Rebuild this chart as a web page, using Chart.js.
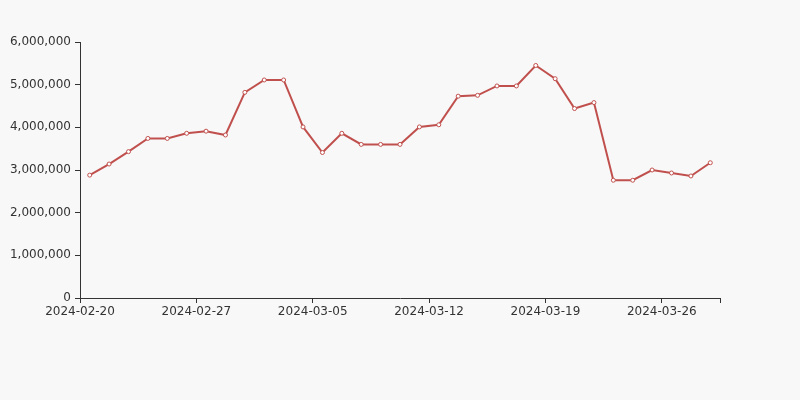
<!DOCTYPE html>
<html><head><meta charset="utf-8">
<script src="https://cdn.jsdelivr.net/npm/chart.js@4/dist/chart.umd.min.js"></script>
<style>html,body{margin:0;background:#f8f8f8}#w{width:800px;height:400px}</style>
</head><body><div id="w"><canvas id="c"></canvas></div>
<script>
const dates = ["2024-02-20","2024-02-21","2024-02-22","2024-02-23","2024-02-24","2024-02-26","2024-02-27","2024-02-28","2024-02-29","2024-03-01","2024-03-02","2024-03-04","2024-03-05","2024-03-06","2024-03-07","2024-03-08","2024-03-09","2024-03-11","2024-03-12","2024-03-13","2024-03-14","2024-03-15","2024-03-16","2024-03-18","2024-03-19","2024-03-20","2024-03-21","2024-03-22","2024-03-23","2024-03-25","2024-03-26","2024-03-27","2024-03-28"];
const values = [2880000,3140000,3430000,3740000,3740000,3860000,3910000,3820000,4820000,5110000,5110000,4010000,3410000,3860000,3600000,3600000,3600000,4010000,4060000,4730000,4750000,4970000,4970000,5450000,5140000,4440000,4580000,2760000,2760000,3000000,2930000,2860000,3170000];
const yTicks = [0,1000000,2000000,3000000,4000000,5000000,6000000];
const xTickIdx = [0,6,12,18,24,30,33];
const font = {family:"DejaVu Sans, sans-serif", size:12};
new Chart(document.getElementById('c'), {
  type:'line',
  data:{datasets:[{data:values.map((v,i)=>({x:i+0.5,y:v})),borderColor:'#c0504d',borderWidth:2,
    pointRadius:2,pointBackgroundColor:'#fff',pointBorderColor:'#c0504d',pointBorderWidth:1,tension:0}]},
  options:{responsive:true,maintainAspectRatio:false,animation:false,
    layout:{padding:{left:0,right:80,top:42,bottom:0}},
    plugins:{legend:{display:false},tooltip:{enabled:false}},
    scales:{
      x:{type:'linear',min:0,max:dates.length,
        afterBuildTicks:s=>{s.ticks=xTickIdx.map(v=>({value:v}));},
        afterFit:s=>{s.height=102;},
        ticks:{font,color:'#333',maxRotation:0,autoSkip:false,padding:2,callback:v=>v<dates.length?dates[v]:''},
        grid:{display:true,drawOnChartArea:false,drawTicks:true,tickLength:5,color:'#333'},
        border:{color:'#333'}},
      y:{min:0,max:6000000,
        afterBuildTicks:s=>{s.ticks=yTicks.map(v=>({value:v}));},
        afterFit:s=>{s.width=80;},
        ticks:{font,color:'#333',padding:4,callback:v=>v.toLocaleString('en-US')},
        grid:{display:true,drawOnChartArea:false,drawTicks:true,tickLength:5,color:'#333'},
        border:{color:'#333'}}
    }}
});
</script></body></html>
